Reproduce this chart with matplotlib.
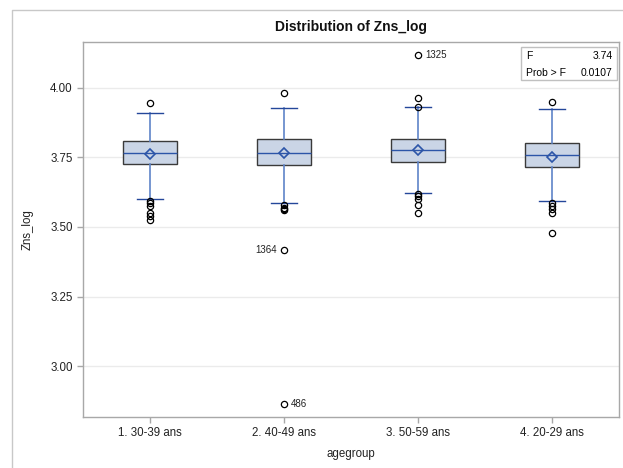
import numpy as np
import matplotlib
matplotlib.use("Agg")
import matplotlib.pyplot as plt
from matplotlib.patches import Rectangle
from matplotlib.lines import Line2D

plt.rcParams['font.family'] = ['Liberation Sans', 'DejaVu Sans']

# data
groups = ["1. 30-39 ans", "2. 40-49 ans", "3. 50-59 ans", "4. 20-29 ans"]
q1 = [3.727, 3.724, 3.735, 3.717]
med = [3.766, 3.767, 3.777, 3.760]
q3 = [3.809, 3.818, 3.815, 3.803]
means = [3.763, 3.767, 3.777, 3.753]
whislo = [3.600, 3.587, 3.623, 3.595]
whishi = [3.910, 3.926, 3.930, 3.923]
fliers = [
    [3.946, 3.595, 3.585, 3.575, 3.550, 3.540, 3.525],
    [3.983, 3.580, 3.570, 3.565, 3.560, 3.417, 2.863],
    [4.119, 3.965, 3.930, 3.620, 3.610, 3.600, 3.580, 3.550],
    [3.951, 3.585, 3.575, 3.565, 3.550, 3.480],
]
# labelled outliers: group index, value, id
lab_group = [1, 1, 2]
lab_value = [3.417, 2.863, 4.119]
lab_text = ["1364", "486", "1325"]
lab_side = ["left", "right", "right"]

f_value = 3.74
p_value = 0.0107

fig = plt.figure(figsize=(6.23, 4.68), dpi=100)
ax = fig.add_axes([83/623, 51/468, 536/623, 375/468])

stats = []
for i in range(len(groups)):
    stats.append(dict(q1=q1[i], med=med[i], q3=q3[i], mean=means[i],
                      whislo=whislo[i], whishi=whishi[i], fliers=fliers[i]))

ax.bxp(stats, positions=range(len(groups)), widths=0.41, patch_artist=True,
       showmeans=True, showcaps=True, capwidths=0.2,
       boxprops=dict(facecolor="#CAD5E6", edgecolor="#3A3A3A", linewidth=1.0),
       medianprops=dict(color="#2C55A8", linewidth=1.0),
       whiskerprops=dict(color="#5F84C8", linewidth=1.2),
       capprops=dict(color="#24479A", linewidth=1.0),
       meanprops=dict(marker="D", markerfacecolor="none", markeredgecolor="#2C55A8",
                      markeredgewidth=1.2, markersize=5.5),
       flierprops=dict(marker="o", markerfacecolor="none", markeredgecolor="black",
                       markeredgewidth=0.9, markersize=4.5),
       zorder=3)

for g, v, t, s in zip(lab_group, lab_value, lab_text, lab_side):
    if s == "right":
        ax.annotate(t, (g, v), xytext=(5, 0), textcoords="offset points",
                    ha="left", va="center", fontsize=7, color="#222222")
    else:
        ax.annotate(t, (g, v), xytext=(-5, 0), textcoords="offset points",
                    ha="right", va="center", fontsize=7, color="#222222")

ax.set_xlim(-0.5, 3.5)
ax.set_ylim(2.817, 4.165)
ax.set_yticks([3.00, 3.25, 3.50, 3.75, 4.00])
ax.set_yticklabels(["3.00", "3.25", "3.50", "3.75", "4.00"])
ax.set_xticks(range(len(groups)))
ax.set_xticklabels(groups)
ax.yaxis.grid(True, color="#EBEBEB", linewidth=1.0, zorder=0)
ax.set_axisbelow(True)
for sp in ax.spines.values():
    sp.set_color("#A8A8A8")
    sp.set_linewidth(1.0)
ax.tick_params(colors="#A8A8A8", labelcolor="#222222", labelsize=8.3, length=4, width=1)

ax.set_xlabel("agegroup", fontsize=8.3, color="#222222", labelpad=6)
ax.set_ylabel("Zns_log", fontsize=8.3, color="#222222", labelpad=12)

fig.text(351/623, 1 - 27/468, "Distribution of Zns_log", ha="center", va="center",
         fontsize=10, fontweight="bold", color="#111111")

# stats inset
ax.add_patch(Rectangle((0.818, 0.898), 0.178, 0.088, transform=ax.transAxes,
                       facecolor="white", edgecolor="#C0C0C0", linewidth=1, zorder=4))
ax.text(0.826, 0.963, "F", transform=ax.transAxes, fontsize=7.5, va="center", zorder=5)
ax.text(0.988, 0.963, f"{f_value:.2f}", transform=ax.transAxes, fontsize=7.5,
        va="center", ha="right", zorder=5)
ax.text(0.826, 0.918, "Prob > F", transform=ax.transAxes, fontsize=7.5, va="center", zorder=5)
ax.text(0.988, 0.918, f"{p_value:.4f}", transform=ax.transAxes, fontsize=7.5,
        va="center", ha="right", zorder=5)

# outer graph frame: only top and left edges are visible
fx = 11.5 / 623
fy = 1 - 9.5 / 468
fig.lines.append(Line2D([fx, fx, 1.0], [0.0, fy, fy], transform=fig.transFigure,
                        color="#C8C8C8", linewidth=1))

fig.savefig("out.png", dpi=100)
